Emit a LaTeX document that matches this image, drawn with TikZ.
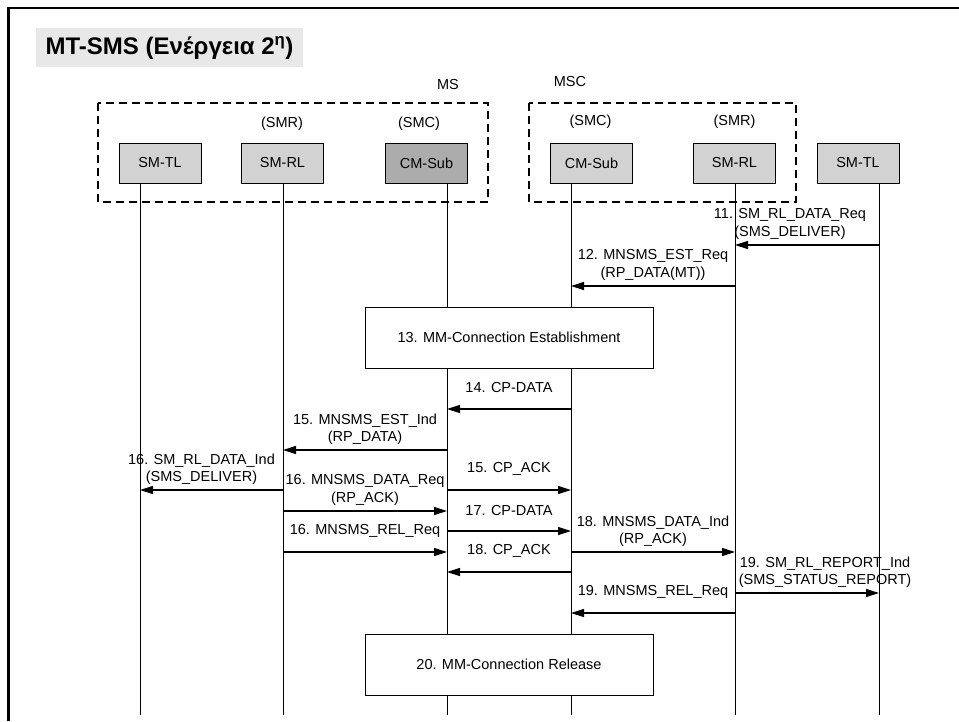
\documentclass[tikz,border=0pt]{standalone}
\usepackage{fontspec}
\setmainfont{Liberation Sans}
\usetikzlibrary{arrows.meta}

\begin{document}
\begin{tikzpicture}[x=1pt,y=-1pt,>={Triangle[length=13pt,width=8pt]},
  every node/.style={font=\fontsize{14.5}{17.5}\selectfont},
  entity/.style={draw,fill=gray!35,minimum width=82pt,minimum height=40pt,inner sep=0pt,line width=0.8pt},
  life/.style={line width=1pt},
  msg/.style={->,line width=1.2pt},
  lbl/.style={midway,yshift=21pt,align=center,inner sep=0pt},
  phase/.style={draw,fill=white,minimum width=288pt,minimum height=61pt,line width=1pt},
  group/.style={dash pattern=on 8pt off 5pt,line width=2pt}]
\useasboundingbox (0,0) rectangle (959,721);
% frame and title
\draw[line width=2.5pt] (8.5,721) -- (8.5,7.8) -- (959,7.8);
\node[fill=gray!18,minimum width=267pt,minimum height=39pt,font=\fontsize{24}{28}\selectfont\bfseries] (title) at (169.5,47.5) {MT-SMS (Ενέργεια 2\textsuperscript{η})};

% MS and MSC groups
\draw[group] (98,103) rectangle (488,202);
\draw[group] (529,103) rectangle (796,202);
\node (ms) at (448,85) {MS};
\node (msc) at (570,82) {MSC};

% entities
\node[entity] (tl1) at (160,163) {SM-TL};
\node[entity] (rl1) at (282.5,163) {SM-RL};
\node[entity,fill=gray!65] (cm1) at (426.5,163) {CM-Sub};
\node[entity] (cm2) at (591.5,163) {CM-Sub};
\node[entity] (rl2) at (734.5,163) {SM-RL};
\node[entity] (tl2) at (858,163) {SM-TL};
\node (smr1) at (282,124) {(SMR)};
\node (smc1) at (419,124) {(SMC)};
\node (smc2) at (590.5,122) {(SMC)};
\node (smr2) at (734.5,122) {(SMR)};

% lifelines
\coordinate (l1) at (140,715);
\coordinate (l2) at (283,715);
\coordinate (l3) at (447,715);
\coordinate (l4) at (571,715);
\coordinate (l5) at (735,715);
\coordinate (l6) at (879,715);
\draw[life] (l1 |- tl1.south) -- (l1);
\draw[life] (l2 |- rl1.south) -- (l2);
\draw[life] (l3 |- cm1.south) -- (l3);
\draw[life] (l4 |- cm2.south) -- (l4);
\draw[life] (l5 |- rl2.south) -- (l5);
\draw[life] (l6 |- tl2.south) -- (l6);

% messages
\draw[msg] (l6 |- 0,245) -- (l5 |- 0,245) node[lbl,xshift=-17pt] {11. SM\_RL\_DATA\_Req\\(SMS\_DELIVER)};
\draw[msg] (l5 |- 0,286) -- (l4 |- 0,286) node[lbl] {12. MNSMS\_EST\_Req\\(RP\_DATA(MT))};
\node[phase] (mm13) at (509,337.5) {13. MM-Connection Establishment};
\draw[msg] (l4 |- 0,409) -- (l3 |- 0,409) node[lbl] {14. CP-DATA};
\draw[msg] (l3 |- 0,450) -- (l2 |- 0,450) node[lbl] {15. MNSMS\_EST\_Ind\\(RP\_DATA)};
\draw[msg] (l2 |- 0,490) -- (l1 |- 0,490) node[lbl,xshift=-10pt] {16. SM\_RL\_DATA\_Ind\\(SMS\_DELIVER)};
\draw[msg] (l3 |- 0,490) -- (l4 |- 0,490) node[lbl] {15. CP\_ACK};
\draw[msg] (l2 |- 0,511) -- (l3 |- 0,511) node[lbl] {16. MNSMS\_DATA\_Req\\(RP\_ACK)};
\draw[msg] (l3 |- 0,531) -- (l4 |- 0,531) node[lbl] {17. CP-DATA};
\draw[msg] (l2 |- 0,552) -- (l3 |- 0,552) node[lbl] {16. MNSMS\_REL\_Req};
\draw[msg] (l4 |- 0,552) -- (l5 |- 0,552) node[lbl] {18. MNSMS\_DATA\_Ind\\(RP\_ACK)};
\draw[msg] (l4 |- 0,572) -- (l3 |- 0,572) node[lbl] {18. CP\_ACK};
\draw[msg] (l5 |- 0,593) -- (l6 |- 0,593) node[lbl,xshift=18pt] {19. SM\_RL\_REPORT\_Ind\\(SMS\_STATUS\_REPORT)};
\draw[msg] (l5 |- 0,613) -- (l4 |- 0,613) node[lbl] {19. MNSMS\_REL\_Req};
\node[phase] (mm20) at (509,664.5) {20. MM-Connection Release};
\end{tikzpicture}
\end{document}
